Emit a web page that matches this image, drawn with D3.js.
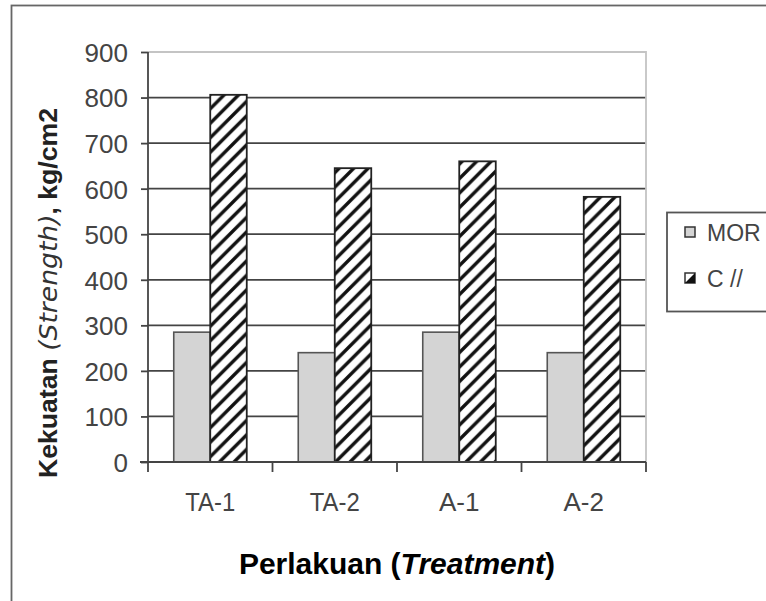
<!DOCTYPE html>
<html><head><meta charset="utf-8">
<script src="https://cdn.jsdelivr.net/npm/d3@7"></script>
<style>html,body{margin:0;padding:0;background:#fff;}svg{display:block;}</style>
</head><body>
<div id="chart"></div>
<script>
const categories = ["TA-1", "TA-2", "A-1", "A-2"];
const seriesNames = ["MOR", "C //"];
const morValues = [285, 240, 285, 240];
const cValues = [806, 645, 660, 582];
const yTicks = [0, 100, 200, 300, 400, 500, 600, 700, 800, 900];

const W = 766, H = 601;
const svg = d3.select("#chart").append("svg").attr("width", W).attr("height", H);

const defs = svg.append("defs");
const pat = defs.append("pattern").attr("id", "hatch").attr("patternUnits", "userSpaceOnUse")
  .attr("width", 14.5).attr("height", 14.5);
pat.append("rect").attr("width", 14.5).attr("height", 14.5).attr("fill", "#fff");
pat.append("path").attr("d", "M-3,17.5 L17.5,-3 M-3,3 L3,-3 M11.5,17.5 L17.5,11.5")
  .attr("stroke", "#111").attr("stroke-width", 3.4);

// outer border
svg.append("rect").attr("x", 11.5).attr("y", 5.5).attr("width", 900).attr("height", 800)
  .attr("fill", "none").attr("stroke", "#666").attr("stroke-width", 1.8);

const plotL = 148, plotR = 646, plotT = 52, plotB = 462;
const x = d3.scaleBand().domain(categories).range([plotL, plotR]).paddingInner(0).paddingOuter(0);
const y = d3.scaleLinear().domain([0, 900]).range([plotB, plotT]);

// gridlines
svg.append("g").selectAll("line").data(yTicks.filter(t => t > 0 && t < 900)).join("line")
  .attr("x1", plotL).attr("x2", plotR).attr("y1", d => y(d)).attr("y2", d => y(d))
  .attr("stroke", "#444").attr("stroke-width", 1.8);
// plot area border top/right
svg.append("path").attr("d", `M${plotL},${y(900)} H${plotR} V${plotB}`)
  .attr("fill", "none").attr("stroke", "#c4c4c4").attr("stroke-width", 1.8);

// bars
const barW = 36.5;
const gap = (x.bandwidth() - 2 * barW) / 2;
const g = svg.append("g");
g.selectAll("rect.mor").data(categories).join("rect").attr("class", "mor")
  .attr("x", d => x(d) + gap).attr("width", barW)
  .attr("y", (d, i) => y(morValues[i])).attr("height", (d, i) => y(0) - y(morValues[i]))
  .attr("fill", "#d4d4d4").attr("stroke", "#555").attr("stroke-width", 1.6);
g.selectAll("rect.c").data(categories).join("rect").attr("class", "c")
  .attr("x", d => x(d) + gap + barW).attr("width", barW)
  .attr("y", (d, i) => y(cValues[i])).attr("height", (d, i) => y(0) - y(cValues[i]))
  .attr("fill", "url(#hatch)").attr("stroke", "#222").attr("stroke-width", 1.8);

// axes
const yAxis = svg.append("g").attr("transform", `translate(${plotL},0)`)
  .call(d3.axisLeft(y).tickValues(yTicks).tickSize(7).tickPadding(13).tickFormat(d3.format("d")));
yAxis.select(".domain").attr("stroke", "#444").attr("stroke-width", 1.8).attr("d", `M0,${plotT}V${plotB}`);
yAxis.selectAll(".tick line").attr("stroke", "#444").attr("stroke-width", 1.8);
yAxis.selectAll(".tick text").attr("font-family", "Arial, 'Liberation Sans', sans-serif")
  .attr("font-size", 26).attr("fill", "#444").attr("dy", "0.36em");

const xAxis = svg.append("g").attr("transform", `translate(0,${plotB})`)
  .call(d3.axisBottom(x).tickSize(0).tickPadding(0));
xAxis.select(".domain").attr("stroke", "#444").attr("stroke-width", 1.8).attr("d", `M${plotL - 8},0H${plotR}`);
xAxis.selectAll(".tick text").attr("font-family", "Arial, 'Liberation Sans', sans-serif")
  .attr("font-size", 26).attr("fill", "#444").attr("y", 49).attr("dy", 0)
  .each(function () {
    const len = this.getComputedTextLength();
    if (len > 50) d3.select(this).attr("textLength", 50).attr("lengthAdjust", "spacingAndGlyphs");
  });
// category boundary ticks
svg.append("g").selectAll("line").data(categories.concat(["end"])).join("line")
  .attr("x1", (d, i) => i < categories.length ? x(d) : plotR)
  .attr("x2", (d, i) => i < categories.length ? x(d) : plotR)
  .attr("y1", plotB).attr("y2", plotB + 10)
  .attr("stroke", "#444").attr("stroke-width", 1.8);

// axis titles
svg.append("text").attr("x", (plotL + plotR) / 2).attr("y", 574)
  .attr("text-anchor", "middle").attr("font-family", "Arial, 'Liberation Sans', sans-serif")
  .attr("font-size", 30).attr("font-weight", "bold").attr("fill", "#000")
  .call(t => {
    t.append("tspan").text("Perlakuan (");
    t.append("tspan").attr("font-style", "italic").text("Treatment");
    t.append("tspan").text(")");
  });

const yt = svg.append("text").attr("transform", "translate(57,293) rotate(-90)")
  .attr("text-anchor", "middle").attr("font-size", 25).attr("fill", "#222")
  .attr("textLength", 370).attr("lengthAdjust", "spacingAndGlyphs");
yt.append("tspan").attr("font-family", "Arial, 'Liberation Sans', sans-serif").attr("font-weight", "bold").text("Kekuatan ");
yt.append("tspan").attr("font-family", "'DejaVu Sans', Verdana, sans-serif").attr("font-style", "italic").attr("fill", "#333").text("(Strength)");
yt.append("tspan").attr("font-family", "Arial, 'Liberation Sans', sans-serif").attr("font-weight", "bold").text(", kg/cm2");

// legend
const lg = svg.append("g");
lg.append("rect").attr("x", 667).attr("y", 212.5).attr("width", 200).attr("height", 99)
  .attr("fill", "#fff").attr("stroke", "#555").attr("stroke-width", 1.8);
const items = lg.selectAll("g.item").data(seriesNames).join("g").attr("class", "item")
  .attr("transform", (d, i) => `translate(685,${227 + i * 46})`);
items.append("rect").attr("width", 10).attr("height", 10)
  .attr("fill", (d, i) => i === 0 ? "#d4d4d4" : "#fff").attr("stroke", "#333").attr("stroke-width", 1.5);
items.filter((d, i) => i === 1).append("path").attr("d", "M10,0 L10,10 L0,10 Z").attr("fill", "#111");
items.append("text").attr("x", 22).attr("y", 14).attr("font-family", "Arial, 'Liberation Sans', sans-serif")
  .attr("font-size", 23).attr("fill", "#444").text(d => d);
</script>
</body></html>
